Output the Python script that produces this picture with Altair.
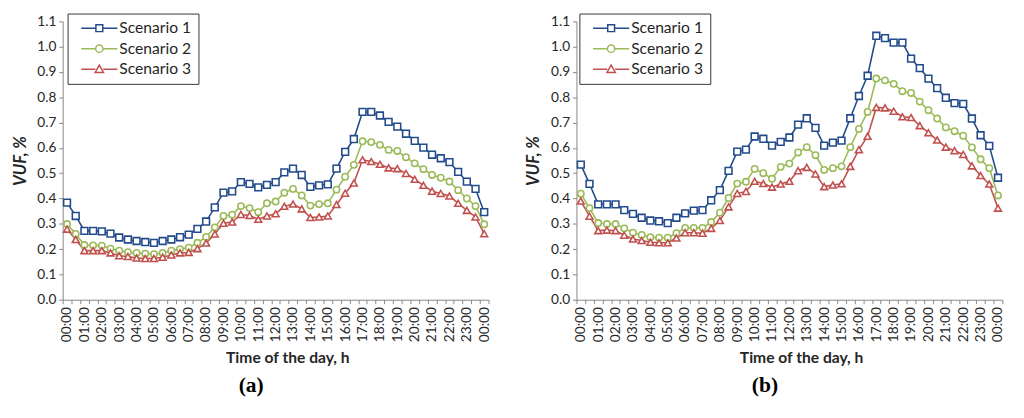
import json
import altair as alt
import pandas as pd

# ---------------- data ----------------
series_names = ["Scenario 1", "Scenario 2", "Scenario 3"]
hours = ["%02d:00" % h for h in range(24)] + ["00:00"]

a_s1 = [0.384, 0.331, 0.272, 0.272, 0.270, 0.261, 0.246, 0.238, 0.232, 0.228,
        0.225, 0.232, 0.238, 0.247, 0.257, 0.280, 0.309, 0.365, 0.423, 0.428,
        0.465, 0.458, 0.444, 0.454, 0.465, 0.503, 0.518, 0.493, 0.446, 0.452,
        0.456, 0.518, 0.584, 0.635, 0.742, 0.742, 0.728, 0.703, 0.684, 0.656,
        0.628, 0.601, 0.573, 0.559, 0.544, 0.505, 0.467, 0.438, 0.346]
a_s2 = [0.299, 0.260, 0.216, 0.215, 0.214, 0.202, 0.194, 0.188, 0.185, 0.182,
        0.180, 0.185, 0.194, 0.200, 0.206, 0.225, 0.248, 0.286, 0.331, 0.336,
        0.370, 0.362, 0.346, 0.381, 0.388, 0.423, 0.438, 0.412, 0.372, 0.378,
        0.381, 0.435, 0.486, 0.533, 0.626, 0.623, 0.612, 0.592, 0.588, 0.563,
        0.539, 0.516, 0.493, 0.482, 0.467, 0.433, 0.400, 0.370, 0.298]
a_s3 = [0.279, 0.238, 0.194, 0.194, 0.194, 0.185, 0.174, 0.171, 0.165, 0.163,
        0.163, 0.168, 0.177, 0.185, 0.187, 0.202, 0.224, 0.260, 0.302, 0.307,
        0.337, 0.333, 0.318, 0.331, 0.340, 0.369, 0.378, 0.359, 0.325, 0.327,
        0.331, 0.376, 0.421, 0.461, 0.553, 0.546, 0.535, 0.521, 0.518, 0.499,
        0.476, 0.452, 0.429, 0.420, 0.410, 0.381, 0.353, 0.327, 0.261]

b_s1 = [0.534, 0.458, 0.377, 0.377, 0.377, 0.354, 0.339, 0.324, 0.313, 0.310,
        0.303, 0.324, 0.341, 0.352, 0.354, 0.393, 0.433, 0.509, 0.585, 0.593,
        0.645, 0.636, 0.609, 0.624, 0.641, 0.692, 0.717, 0.679, 0.609, 0.621,
        0.629, 0.717, 0.805, 0.885, 1.043, 1.034, 1.016, 1.016, 0.953, 0.915,
        0.874, 0.836, 0.798, 0.777, 0.774, 0.716, 0.650, 0.608, 0.482]
b_s2 = [0.419, 0.362, 0.303, 0.299, 0.299, 0.282, 0.265, 0.256, 0.247, 0.245,
        0.245, 0.263, 0.284, 0.284, 0.284, 0.307, 0.344, 0.402, 0.459, 0.466,
        0.517, 0.500, 0.478, 0.525, 0.538, 0.582, 0.603, 0.571, 0.513, 0.520,
        0.527, 0.603, 0.675, 0.742, 0.874, 0.867, 0.853, 0.824, 0.817, 0.783,
        0.749, 0.716, 0.681, 0.666, 0.648, 0.602, 0.555, 0.520, 0.412]
b_s3 = [0.390, 0.330, 0.273, 0.275, 0.273, 0.255, 0.240, 0.234, 0.227, 0.225,
        0.225, 0.244, 0.265, 0.265, 0.263, 0.282, 0.313, 0.367, 0.420, 0.428,
        0.468, 0.459, 0.445, 0.457, 0.468, 0.510, 0.523, 0.497, 0.447, 0.453,
        0.458, 0.527, 0.593, 0.646, 0.760, 0.758, 0.745, 0.723, 0.720, 0.688,
        0.660, 0.631, 0.603, 0.589, 0.574, 0.529, 0.491, 0.457, 0.362]

y_ticks = [round(i * 0.1, 1) for i in range(12)]

# ---------------- styling ----------------
colors = ["#224B8B", "#9BBB59", "#C0504D"]
shapes = ["square", "circle", "triangle-up"]
shape_sizes = [48, 42, 50]
FONT = "Lato"
TXT = "#262626"
AX = "#868686"
W, H = 436, 285
n_cat = len(a_s1)

cat_labels = [hours[k // 2] if k % 2 == 0 else "" for k in range(n_cat)] + [""]
label_expr = json.dumps(cat_labels) + "[round(datum.value + 0.5)]"
tick_vals = [k - 0.5 for k in range(n_cat + 1)]

# legend symbol paths: line + marker
P1 = "M-3.7,0H-0.7M0.7,0H3.7M-0.7,-0.7H0.7V0.7H-0.7Z"
P2 = "M-3.7,0H-0.75M0.75,0H3.7M-0.75,0A0.75,0.75,0,1,0,0.75,0A0.75,0.75,0,1,0,-0.75,0Z"
P3 = "M-3.7,0H-0.8M0.8,0H3.7M0,-0.85L0.85,0.65H-0.85Z"
legend_paths = [P1, P2, P3]


def make_df(s1, s2, s3):
    rows = []
    for name, vals in zip(series_names, [s1, s2, s3]):
        for i, v in enumerate(vals):
            rows.append({"idx": i, "series": name, "value": v})
    return pd.DataFrame(rows)


legend_df = pd.DataFrame({"series": series_names})


def make_legend(lx, ly):
    return alt.Legend(
        title=None, orient="none", legendX=lx, legendY=ly,
        strokeColor="#333333", fillColor="white", padding=7,
        symbolSize=100, symbolOffset=17.5, labelOffset=12.5,
        symbolStrokeWidth=1.5, rowPadding=5,
        labelFont=FONT, labelFontSize=16, labelColor=TXT)


def panel(df, caption, lx, ly):
    cscale = alt.Scale(domain=series_names, range=colors)
    # legend-only layer first (its explicit legend settings win when merging)
    leg = (
        alt.Chart(legend_df)
        .mark_point(size=0, strokeWidth=1.5, opacity=1)
        .encode(
            stroke=alt.Stroke("series:N", scale=cscale, legend=make_legend(lx, ly)),
            shape=alt.Shape("series:N", scale=alt.Scale(domain=series_names, range=legend_paths),
                            legend=make_legend(lx, ly)),
        )
    )
    base = alt.Chart(df).encode(
        x=alt.X("idx:Q",
                scale=alt.Scale(domain=[-0.5, n_cat - 0.5], nice=False, zero=False),
                axis=alt.Axis(values=tick_vals, labelExpr=label_expr, labelAngle=-90,
                              labelOffset=W / n_cat / 2, labelOverlap=False, labelFlush=False,
                              labelPadding=3, tickSize=4,
                              title="Time of the day, h", titlePadding=8,
                              titleX=W / 2 + 12, titleAlign="center")),
        y=alt.Y("value:Q",
                scale=alt.Scale(domain=[0, 1.1], nice=False),
                axis=alt.Axis(values=y_ticks, format=".1f", title="VUF, %",
                              titleFontStyle="italic", titleFontSize=17,
                              tickSize=4, labelPadding=3, titlePadding=8)),
    )
    line = base.mark_line(strokeWidth=1.6).encode(
        color=alt.Color("series:N", scale=cscale, legend=None)
    )
    layers = [leg, line]
    for name, shp, sz in zip(series_names, shapes, shape_sizes):
        layers.append(
            base.transform_filter(alt.datum.series == name)
            .mark_point(shape=shp, fill="white", fillOpacity=1, opacity=1, strokeWidth=1.6, size=sz)
            .encode(stroke=alt.Stroke("series:N", scale=cscale))
        )
    return alt.layer(*layers).properties(
        width=W, height=H,
        title=alt.Title(caption, orient="bottom", font="Liberation Serif", fontSize=22,
                        fontWeight="bold", color="black", offset=10, dx=-25),
    )


pa = panel(make_df(a_s1, a_s2, a_s3), "(a)", 5, -8)
pb = panel(make_df(b_s1, b_s2, b_s3), "(b)", 3, -8)

chart = (
    alt.hconcat(pa, pb, spacing=24)
    .resolve_legend(stroke="independent", shape="independent")
    .properties(padding={"left": 2, "top": 0, "right": 2, "bottom": 0})
    .configure_view(stroke="transparent")
    .configure_axis(grid=False, domainColor=AX, tickColor=AX, labelFont=FONT, labelFontSize=14,
                    labelColor=TXT, titleFont=FONT, titleFontSize=16, titleFontWeight="bold",
                    titleColor=TXT)
)

chart.save("out.html", embed_options={"renderer": "svg", "actions": False})
